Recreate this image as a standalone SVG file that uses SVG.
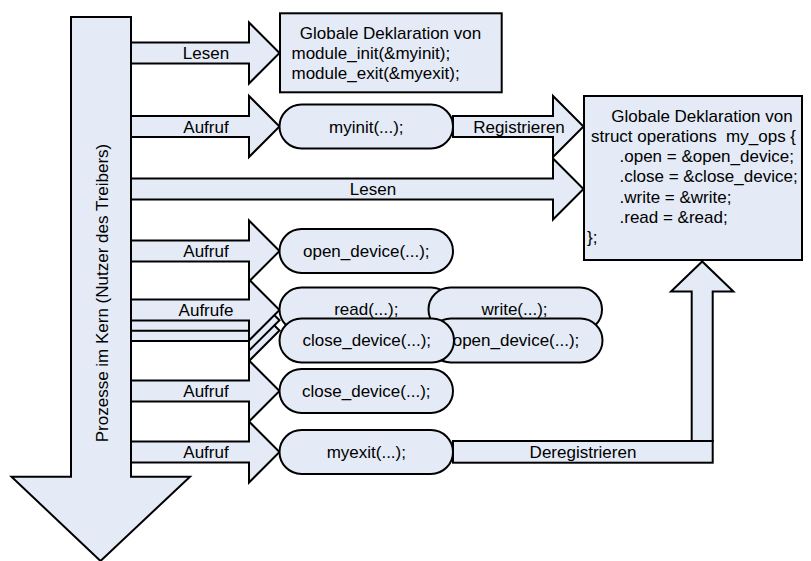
<svg xmlns="http://www.w3.org/2000/svg" width="811" height="561" viewBox="0 0 811 561">
  <style>
    .shape { fill: #E4EBF6; stroke: #000; stroke-width: 2; stroke-linejoin: miter; }
    .txt { font-family: "Liberation Sans", Arial, sans-serif; font-size: 17px; fill: #000; }
    .mid { text-anchor: middle; }
  </style>
  <rect x="0" y="0" width="811" height="561" fill="#fff"/>

  <!-- process flow in the kernel (big downward arrow) -->
  <g id="kernel-processes">
    <path class="shape" d="M71,17 H131 V476.7 H190 L100.5,561 L11.5,476.7 H71 Z"/>
    <text class="txt mid" transform="translate(107.5,293) rotate(-90)">Prozesse im Kern (Nutzer des Treibers)</text>
  </g>

  <!-- block arrows -->
  <g id="connectors">
    <g id="read-module-decl">
      <path class="shape" d="M131,42.5 H249 V22.5 L279.5,53 L249,83.5 V63.5 H131 Z"/>
      <text class="txt mid" x="206" y="59">Lesen</text>
    </g>
    <g id="call-myinit">
      <path class="shape" d="M131,116 H249 V96 L279.5,126.5 L249,157 V137 H131 Z"/>
      <text class="txt mid" x="206" y="132.5">Aufruf</text>
    </g>
    <g id="register">
      <path class="shape" d="M453,116 H553 V96 L583.5,126.5 L553,157 V137 H453 Z"/>
      <text class="txt mid" x="519" y="132.5">Registrieren</text>
    </g>
    <g id="read-ops">
      <path class="shape" d="M131,178.5 H553 V158.5 L583.5,189 L553,219.5 V199.5 H131 Z"/>
      <text class="txt mid" x="373" y="195">Lesen</text>
    </g>
    <g id="call-open">
      <path class="shape" d="M131,240.5 H249 V220.5 L279.5,251 L249,281.5 V261.5 H131 Z"/>
      <text class="txt mid" x="206" y="257">Aufruf</text>
    </g>
    <g id="calls">
      <path class="shape" d="M131,320 H249 V300 L279.5,330.5 L249,361 V341 H131 Z"/>
      <path class="shape" d="M131,309.7 H249 V289.7 L279.5,320.2 L249,350.7 V330.7 H131 Z"/>
      <path class="shape" d="M131,299.5 H249 V279.5 L279.5,310 L249,340.5 V320.5 H131 Z"/>
      <text class="txt mid" x="206" y="316">Aufrufe</text>
    </g>
    <g id="call-close">
      <path class="shape" d="M131,380.5 H249 V360.5 L279.5,391 L249,421.5 V401.5 H131 Z"/>
      <text class="txt mid" x="206" y="397">Aufruf</text>
    </g>
    <g id="call-myexit">
      <path class="shape" d="M131,441.5 H249 V421.5 L279.5,452 L249,482.5 V462.5 H131 Z"/>
      <text class="txt mid" x="206" y="458">Aufruf</text>
    </g>
    <g id="deregister">
      <path class="shape" d="M691.7,441 V291.5 H671 L702.2,261.5 L733.4,291.5 H712.7 V441 Z"/>
      <rect class="shape" x="453" y="441" width="259.7" height="21.7"/>
      <text class="txt mid" x="583" y="458">Deregistrieren</text>
    </g>
  </g>

  <!-- module entry/exit declaration -->
  <g id="module-decl">
    <rect class="shape" x="280" y="13.3" width="221.7" height="79"/>
    <text class="txt mid" x="390.5" y="38.5">Globale Deklaration von</text>
    <text class="txt" x="291.5" y="58.5">module_init(&amp;myinit);</text>
    <text class="txt" x="291.5" y="78.5">module_exit(&amp;myexit);</text>
  </g>

  <!-- file operations declaration -->
  <g id="ops-decl">
    <rect class="shape" x="584" y="96" width="218" height="164"/>
    <text class="txt mid" x="702" y="121.5">Globale Deklaration von</text>
    <text class="txt" x="591" y="141.8" xml:space="preserve">struct operations  my_ops {</text>
    <text class="txt" x="619.5" y="162.1">.open = &amp;open_device;</text>
    <text class="txt" x="619.5" y="182.4">.close = &amp;close_device;</text>
    <text class="txt" x="619.5" y="202.7">.write = &amp;write;</text>
    <text class="txt" x="619.5" y="223">.read = &amp;read;</text>
    <text class="txt" x="587" y="243.3">};</text>
  </g>

  <!-- driver functions -->
  <g id="myinit">
    <rect class="shape" x="279.5" y="104.5" width="173.5" height="44" rx="22" ry="22"/>
    <text class="txt mid" x="366.3" y="132.5">myinit(...);</text>
  </g>
  <g id="open-device">
    <rect class="shape" x="279.5" y="229" width="173.5" height="44" rx="22" ry="22"/>
    <text class="txt mid" x="366.3" y="257">open_device(...);</text>
  </g>
  <g id="read">
    <rect class="shape" x="279.5" y="287.5" width="173.5" height="44" rx="22" ry="22"/>
    <text class="txt mid" x="366.3" y="315">read(...);</text>
  </g>
  <g id="write">
    <rect class="shape" x="428.5" y="287.5" width="173.5" height="44" rx="22" ry="22"/>
    <text class="txt mid" x="514.5" y="315">write(...);</text>
  </g>
  <g id="open-device-2">
    <rect class="shape" x="429" y="318.5" width="173.5" height="44" rx="22" ry="22"/>
    <text class="txt mid" x="516" y="346">open_device(...);</text>
  </g>
  <g id="close-device">
    <rect class="shape" x="279.5" y="318.5" width="174.5" height="44" rx="22" ry="22"/>
    <text class="txt mid" x="366.8" y="346">close_device(...);</text>
  </g>
  <g id="close-device-2">
    <rect class="shape" x="279.5" y="369" width="173.5" height="44" rx="22" ry="22"/>
    <text class="txt mid" x="366.3" y="397">close_device(...);</text>
  </g>
  <g id="myexit">
    <rect class="shape" x="279.5" y="430" width="173.5" height="44" rx="22" ry="22"/>
    <text class="txt mid" x="366.3" y="458">myexit(...);</text>
  </g>
</svg>
